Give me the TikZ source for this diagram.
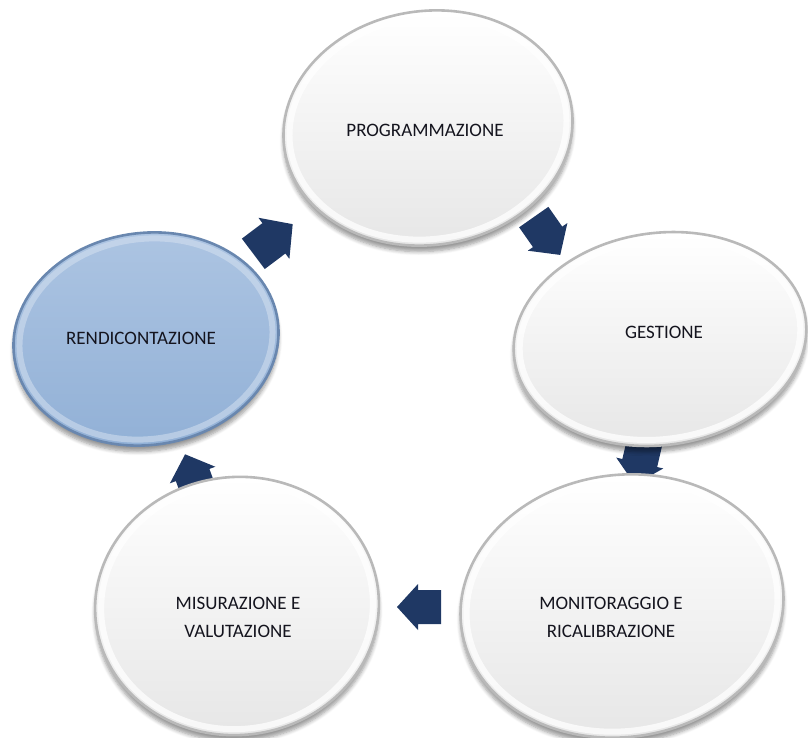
\documentclass[tikz,border=0pt]{standalone}
\usepackage{fontspec}
\setmainfont{Carlito}
\usetikzlibrary{shadows.blur}
\definecolor{navy}{RGB}{31,56,100}
\definecolor{txt}{RGB}{20,20,30}
\definecolor{bluefill}{RGB}{145,176,214}
\definecolor{bluetop}{RGB}{172,196,226}
\definecolor{blueedge}{RGB}{105,135,175}
\tikzset{
  blockarrow/.style={fill=navy},
  bubble/.style={top color=white, bottom color=gray!20, draw=gray!55, line width=1.3pt,
     blur shadow={shadow xshift=0pt, shadow yshift=-3pt, shadow opacity=40, shadow blur steps=6}},
  bluebubble/.style={top color=bluetop, bottom color=bluefill, draw=blueedge, line width=1.3pt,
     blur shadow={shadow xshift=0pt, shadow yshift=-3pt, shadow opacity=40, shadow blur steps=6}},
  bevel/.style={draw=white, line width=3pt, opacity=0.75},
  bevelb/.style={draw=white!50!bluetop, line width=3pt, opacity=0.55},
  lbl/.style={font=\fontsize{9.5}{14}\selectfont, text=txt, align=center, inner sep=0pt},
}
\newcommand\blockarr[3]{\fill[blockarrow, shift={(#1)}, rotate=#2, scale=#3]
  (-22,-17) -- (1,-17) -- (1,-23) -- (22,0) -- (1,23) -- (1,17) -- (-22,17) -- cycle;}
\newcommand\bubbleshape[6]{% style, cx, cy, rx, ry, angle
  \path[#1, rotate around={#6:(#2,#3)}] (#2,#3) ellipse [x radius=#4, y radius=#5];
  \path[bevel, rotate around={#6:(#2,#3)}] (#2,#3) ellipse [x radius=#4-6, y radius=#5-6];}
\begin{document}
\begin{tikzpicture}[x=0.5pt,y=-0.5pt]
\useasboundingbox (0,0) rectangle (808,738);
% block arrows (drawn first, tucked under the ellipses)
\blockarr{273,239}{37}{1.12}
\blockarr{547,236}{-55}{1.05}
\blockarr{640,462}{-103}{1.05}
\blockarr{419,607}{180}{1}
\blockarr{193,476}{110}{1.05}
% ellipses
\bubbleshape{bubble}{428}{128}{145}{117}{8}
\bubbleshape{bubble}{660}{339}{147}{106}{8}
\bubbleshape{bubble}{622}{606}{162}{131}{8}
\bubbleshape{bubble}{237}{606}{142}{129}{6}
\path[bluebubble, rotate around={8:(146,339)}] (146,339) ellipse [x radius=133, y radius=106];
\path[bevelb, rotate around={8:(146,339)}] (146,339) ellipse [x radius=127, y radius=100];
% labels
\node[lbl] (prog) at (425,130) {PROGRAMMAZIONE};
\node[lbl] (gest) at (664,332) {GESTIONE};
\node[lbl] (moni) at (611,617) {MONITORAGGIO E\\RICALIBRAZIONE};
\node[lbl] (misu) at (238,617) {MISURAZIONE E\\VALUTAZIONE};
\node[lbl] (rend) at (141,338) {RENDICONTAZIONE};
\end{tikzpicture}
\end{document}
